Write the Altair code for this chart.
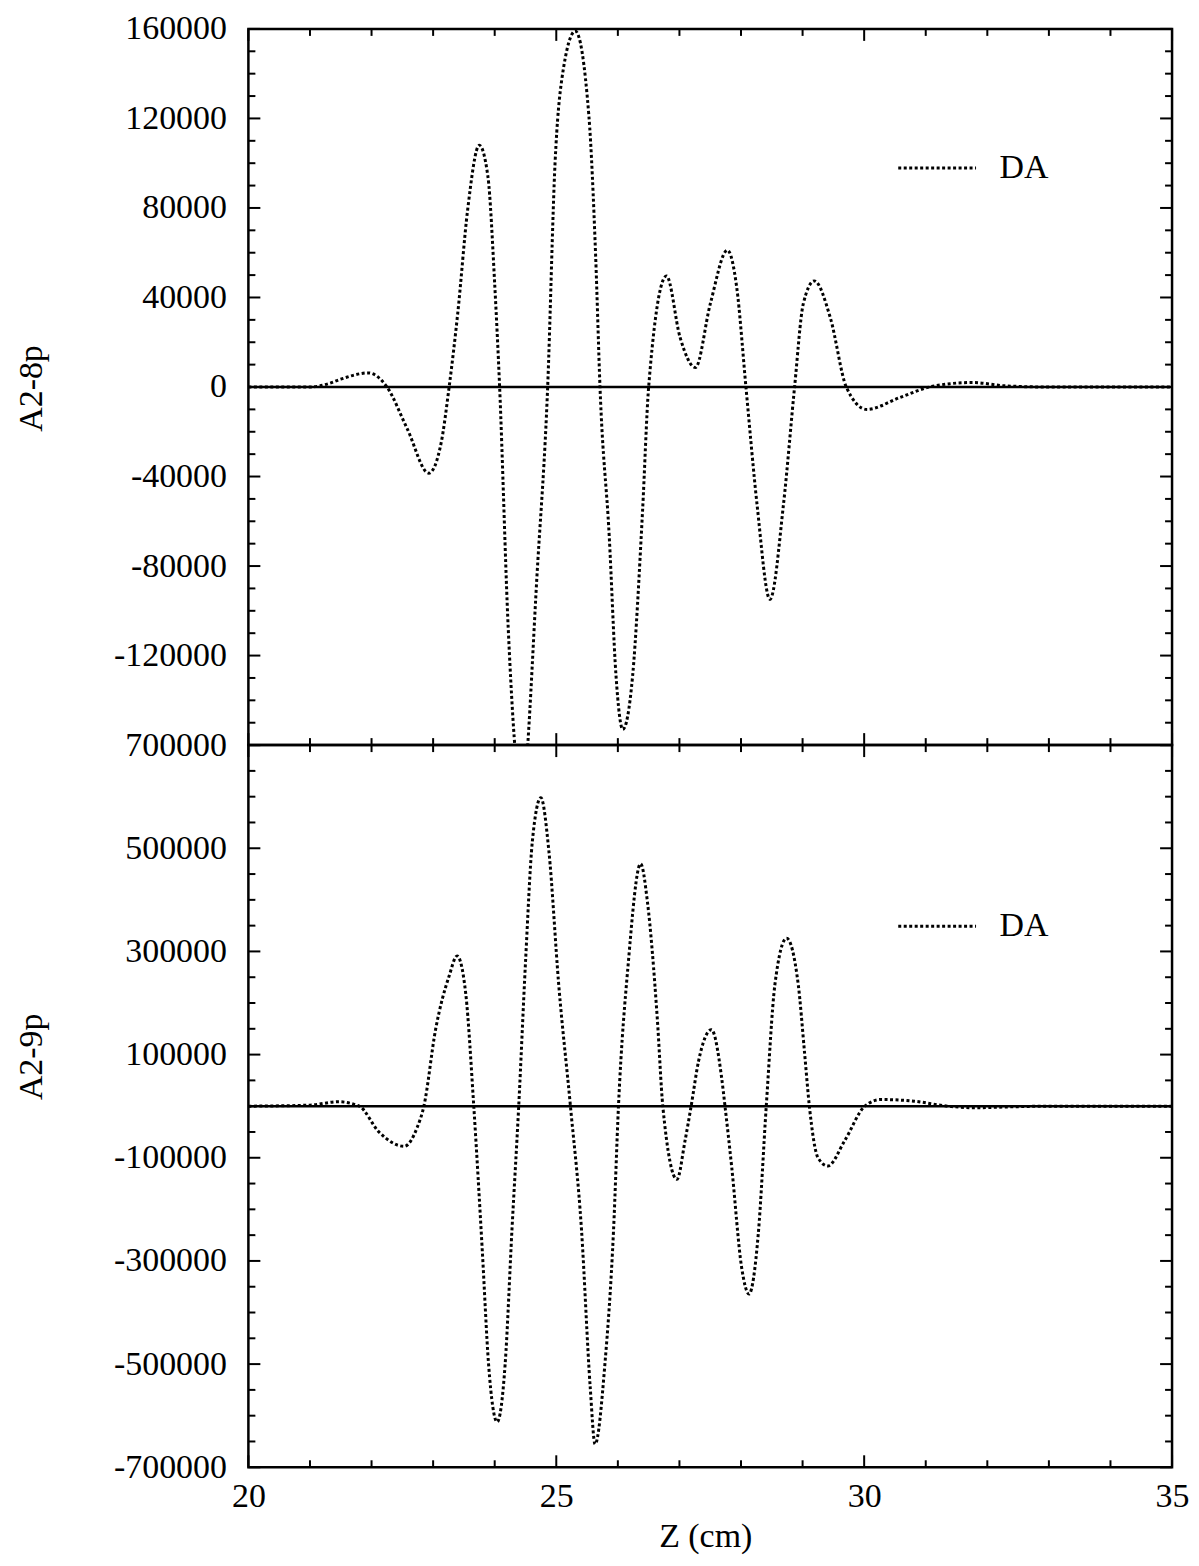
import altair as alt
import pandas as pd

# ---------------- data ----------------
top_z = [20.0, 21.0, 21.3, 21.5, 21.95, 22.25, 22.58, 22.93, 23.13, 23.26, 23.40, 23.56,
         23.75, 23.89, 24.0, 24.08, 24.22, 24.44, 24.7, 24.86, 24.98, 25.09, 25.31, 25.53,
         25.64, 25.71, 25.86, 25.97, 26.08, 26.24, 26.40, 26.50, 26.79, 27.01, 27.26, 27.50,
         27.78, 27.93, 28.08, 28.26, 28.47, 28.69, 28.87, 29.01, 29.19, 29.45, 29.71, 30.04,
         30.58, 31.06, 31.4, 31.75, 32.3, 33.0, 35.0]
top_val = [0, 0, 1500, 3500, 6300, 0, -18700, -38500, -25000, 0, 33000, 79000,
           108000, 94000, 46000, 0, -108000, -182000, -78000, 0, 100000, 137500, 159000, 121000,
           58000, 0, -66700, -129000, -153000, -129000, -56000, 0, 49600, 22200, 8700, 37000,
           61100, 44600, 0, -52400, -94900, -52400, 0, 37000, 47400, 31000, 0, -10000,
           -4700, 0, 1500, 2000, 500, 0, 0]

bot_z = [20.0, 21.0, 21.46, 21.80, 22.12, 22.53, 22.74, 22.85, 23.04, 23.26, 23.39, 23.53,
         23.66, 23.80, 23.90, 24.04, 24.17, 24.28, 24.39, 24.50, 24.61, 24.75, 24.88, 25.04,
         25.23, 25.41, 25.55, 25.63, 25.79, 25.93, 26.01, 26.17, 26.37, 26.48, 26.64, 26.73,
         26.96, 27.09, 27.19, 27.31, 27.52, 27.68, 27.74, 27.85, 28.01, 28.13, 28.28, 28.41,
         28.55, 28.74, 28.93, 29.03, 29.11, 29.25, 29.41, 29.68, 30.01, 30.27, 30.81, 31.36,
         31.8, 32.3, 33.0, 35.0]
bot_val = [0, 2000, 8600, 0, -50000, -77800, -41500, 0, 148700, 252400, 291300, 217800,
           0, -283500, -499600, -612000, -499600, -240300, 0, 278300, 511700, 598000, 494400, 235100,
           0, -240300, -542800, -655200, -499600, -240300, 0, 278300, 470000, 396400, 170800, 0,
           -141800, -67700, 0, 87000, 148300, 60000, 0, -119300, -312600, -364200, -248200, 0,
           235300, 325500, 235300, 106400, 0, -99900, -116000, -67700, 0, 12900, 9700, 0,
           -3000, -1500, 0, 0]

series_name = "DA"
x_title = "Z (cm)"
top_title = "A2-8p"
bot_title = "A2-9p"

x_major = [20, 25, 30, 35]
x_minor = [21, 22, 23, 24, 26, 27, 28, 29, 31, 32, 33, 34]
top_y_major = [-160000, -120000, -80000, -40000, 0, 40000, 80000, 120000, 160000]
top_y_minor = [v for v in range(-160000, 160001, 10000) if v % 40000 != 0]
top_y_labels = [-120000, -80000, -40000, 0, 40000, 80000, 120000, 160000]
bot_y_major = [-700000, -500000, -300000, -100000, 100000, 300000, 500000, 700000]
bot_y_minor = [v for v in range(-700000, 700001, 50000) if (v + 700000) % 200000 != 0]
bot_y_labels = bot_y_major

# ---------------- styling ----------------
FONT = "Liberation Serif"
FS = 34
W = 926
H_TOP = 718
H_BOT = 724
MAJ = 12
MIN = 7
DASH = [3, 2.5]
LW = 3


def panel(z, vals, ydom, ylabels, ymaj, ymin, ytitle, title_y, height, show_x, legend_y):
    xs = alt.Scale(domain=[20, 35], nice=False, zero=False)
    ys = alt.Scale(domain=ydom, nice=False, zero=False)
    df = pd.DataFrame({"x": z, "y": vals, "s": [series_name] * len(z)})
    if show_x:
        xaxis = alt.Axis(values=x_major, title=x_title, ticks=False, tickSize=0,
                         domain=False, grid=False, labelFont=FONT, labelFontSize=FS,
                         labelPadding=12, titleFont=FONT, titleFontSize=FS,
                         titleFontWeight="normal", titlePadding=6, labelFlush=False,
                         labelOverlap=False, labelColor="black", titleColor="black",
                         titleX=458, labelExpr="'' + datum.value")
    else:
        xaxis = None
    yaxis = alt.Axis(values=ylabels, title=ytitle, ticks=False, tickSize=0,
                     domain=False, grid=False, labelFont=FONT, labelFontSize=FS,
                     labelPadding=22, titleFont=FONT, titleFontSize=FS,
                     titleFontWeight="normal", titlePadding=65, titleY=title_y,
                     labelFlush=False, labelOverlap=False,
                     labelColor="black", titleColor="black",
                     labelExpr="'' + datum.value")

    X = lambda: alt.X("x:Q", scale=xs, axis=xaxis)
    Y = lambda: alt.Y("y:Q", scale=ys, axis=yaxis)

    curve = alt.Chart(df).mark_line(clip=True, strokeDash=DASH, strokeWidth=LW,
                                    interpolate="monotone").encode(
        x=X(), y=Y(),
        color=alt.Color("s:N", scale=alt.Scale(domain=[series_name], range=["black"]),
                        legend=alt.Legend(title=None, orient="none", legendX=650,
                                          legendY=legend_y, symbolType="stroke",
                                          symbolSize=6084, symbolStrokeWidth=LW,
                                          symbolDash=DASH, labelFont=FONT,
                                          labelFontSize=FS, labelOffset=22,
                                          labelColor="black", padding=0)),
    )
    zero = alt.Chart(pd.DataFrame({"y": [0]})).mark_rule(color="black", strokeWidth=2.5).encode(
        y=Y(), x=alt.value(0), x2=alt.value(W))

    layers = [curve, zero]
    for vals_, ln in ((x_major, MAJ), (x_minor, MIN)):
        d = pd.DataFrame({"x": vals_})
        base = alt.Chart(d).mark_rule(color="black", strokeWidth=2)
        layers.append(base.encode(x=X(), y=alt.value(0), y2=alt.value(ln)))
        layers.append(base.encode(x=X(), y=alt.value(height), y2=alt.value(height - ln)))
    for vals_, ln in ((ymaj, MAJ), (ymin, MIN)):
        d = pd.DataFrame({"y": vals_})
        base = alt.Chart(d).mark_rule(color="black", strokeWidth=2)
        layers.append(base.encode(y=Y(), x=alt.value(0), x2=alt.value(ln)))
        layers.append(base.encode(y=Y(), x=alt.value(W), x2=alt.value(W - ln)))
    return alt.layer(*layers).properties(width=W, height=height)


top = panel(top_z, top_val, [-160000, 160000], top_y_labels, top_y_major, top_y_minor,
            top_title, 360, H_TOP, False, 99)
bot = panel(bot_z, bot_val, [-700000, 700000], bot_y_labels, bot_y_major, bot_y_minor,
            bot_title, 312, H_BOT, True, 141)

chart = alt.vconcat(top, bot, spacing=0, bounds="flush").resolve_scale(
    color="independent", x="independent", y="independent"
).properties(
    padding={"left": 5, "top": 0, "right": 0, "bottom": 0}
).configure_view(stroke="black", strokeWidth=2.5)

chart.save("out.html", embed_options={"renderer": "svg", "actions": False})
